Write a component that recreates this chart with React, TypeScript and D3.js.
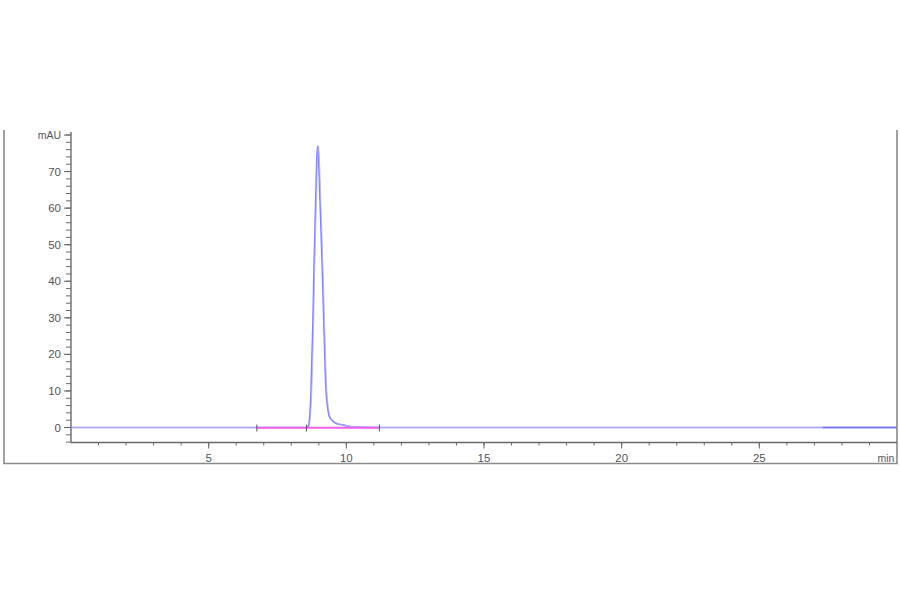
import React from "react"
import * as d3 from "d3"

// retention time (min) and signal (mAU)
const times = [0, 6.75, 8.55, 8.62, 8.71, 8.78, 8.83, 8.89, 8.93, 8.96, 8.99, 9.04, 9.12, 9.19, 9.26, 9.32, 9.38, 9.48, 9.59, 9.8, 10.0, 10.3, 11.2, 27.3, 30]
const signal = [0, 0, 0, 0.4, 8.6, 26.8, 45, 63, 74, 77, 74, 63, 45, 26.8, 10.5, 5.5, 3.1, 2.0, 1.3, 0.8, 0.5, 0.1, 0, 0, 0]
const baselineStart = 6.75
const baselineEnd = 11.2
const eventMarks = [6.75, 8.55, 11.2]
const xTickLabels = [5, 10, 15, 20, 25]
const yTickLabels = [0, 10, 20, 30, 40, 50, 60, 70]

const W = 900
const H = 594

export default function App() {
  const x = d3.scaleLinear().domain([0, 30]).range([71, 897])
  const y = d3.scaleLinear().domain([-4.1, 80]).range([442.5, 135])

  const pts = times.map((t, i) => [t, signal[i]] as [number, number])
  const line = d3
    .line<[number, number]>()
    .x((d) => x(d[0]))
    .y((d) => y(d[1]))
    .curve(d3.curveMonotoneX)

  const xMinor = d3.range(1, 30)
  const yMinor = d3.range(-4, 81, 2)
  const axisColor = "#6a6a6a"
  const font = "'Liberation Sans', Arial, sans-serif"

  return (
    <svg width={W} height={H} style={{ position: "absolute", left: 0, top: 0 }}>
      <rect width={W} height={H} fill="#fff" />
      {/* outer frame, open at the top */}
      <path d="M4,130 V463.5 H897 V130" fill="none" stroke="#8a8a8a" strokeWidth={1.6} />

      {/* y axis */}
      <line x1={71} x2={71} y1={132} y2={y(-4.1)} stroke={axisColor} strokeWidth={1.4} />
      {yMinor.map((v) => (
        <line key={"ym" + v} x1={66} x2={71} y1={y(v)} y2={y(v)} stroke={axisColor} strokeWidth={1} />
      ))}
      {yTickLabels.map((v) => (
        <g key={"y" + v}>
          <line x1={64} x2={71} y1={y(v)} y2={y(v)} stroke={axisColor} strokeWidth={1.1} />
          <text x={61} y={y(v)} dy="0.35em" textAnchor="end" fontSize={11.5} fill="#555" fontFamily={font}>
            {v}
          </text>
        </g>
      ))}
      <line x1={64} x2={71} y1={y(80)} y2={y(80)} stroke={axisColor} strokeWidth={1.1} />
      <text x={61} y={y(80)} dy="0.35em" textAnchor="end" fontSize={10.5} fill="#555" fontFamily={font}>
        mAU
      </text>

      {/* x axis */}
      <line x1={71} x2={897} y1={y(-4.1)} y2={y(-4.1)} stroke={axisColor} strokeWidth={1.4} />
      {xMinor.map((v) => (
        <line key={"xm" + v} x1={x(v)} x2={x(v)} y1={y(-4.1)} y2={y(-4.1) + 3} stroke={axisColor} strokeWidth={1} />
      ))}
      {xTickLabels.map((v) => (
        <g key={"x" + v}>
          <line x1={x(v)} x2={x(v)} y1={y(-4.1)} y2={y(-4.1) + 6} stroke={axisColor} strokeWidth={1.1} />
          <text x={x(v)} y={458} dy="0.35em" textAnchor="middle" fontSize={11.5} fill="#555" fontFamily={font}>
            {v}
          </text>
        </g>
      ))}
      <text x={886} y={458} dy="0.35em" textAnchor="middle" fontSize={10.5} fill="#555" fontFamily={font}>
        min
      </text>

      {/* signal trace */}
      <path d={line(pts) ?? ""} fill="none" stroke="#8585f5" strokeWidth={1.6} />
      <path d={line(pts) ?? ""} fill="none" stroke="#b0b0ff" strokeWidth={0.8} transform="translate(0.8,0)" />
      <line x1={x(27.3)} x2={897} y1={y(0)} y2={y(0)} stroke="#7070f0" strokeWidth={1.4} />

      {/* integration baseline, drawn over the trace */}
      <line x1={x(baselineStart)} x2={x(baselineEnd)} y1={y(0) + 0.3} y2={y(0) + 0.3} stroke="#f060f0" strokeWidth={2} />

      {/* event markers */}
      {eventMarks.map((t) => (
        <line key={"e" + t} x1={x(t)} x2={x(t)} y1={y(0) - 3} y2={y(0) + 4} stroke="#555" strokeWidth={1} />
      ))}
    </svg>
  )
}
